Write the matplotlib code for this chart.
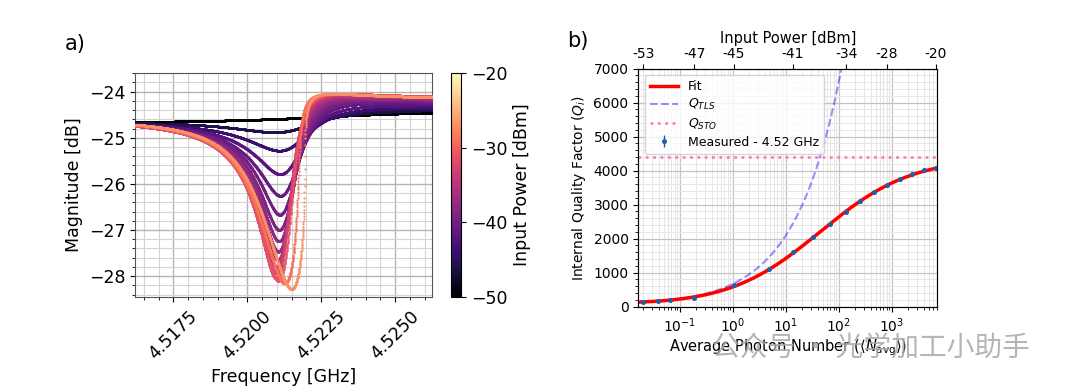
import numpy as np
import matplotlib
matplotlib.use("Agg")
import matplotlib.pyplot as plt
import matplotlib.colors as mcolors
from matplotlib.cm import ScalarMappable
from matplotlib.ticker import (AutoMinorLocator, MultipleLocator, FormatStrFormatter,
                               LogLocator, NullLocator, NullFormatter, FixedLocator)

# ---------------- Panel a: resonance sweeps (per-curve resonator parameters)
powers_dbm   = [-50, -46, -44, -42, -41, -40, -39, -38, -37, -36, -35, -34, -33, -31, -29, -27]
dip_min_db   = [-24.63, -24.88, -25.28, -25.79, -26.26, -26.67, -27.00, -27.25, -27.47,
                -27.65, -27.80, -27.94, -28.05, -28.10, -28.16, -28.28]
dip_freq_ghz = [4.5190, 4.52098, 4.52110, 4.52112, 4.52112, 4.52110, 4.52108, 4.52107, 4.52105,
                4.52103, 4.52100, 4.52098, 4.52098, 4.52105, 4.52127, 4.52150]
loaded_q     = [600, 1330, 1700, 2100, 2350, 2550, 2700, 2800, 2900, 2950, 3000, 3050, 3100, 3150, 3500, 3600]
asym_deg     = [-85, -38, -34, -32, -32, -31, -31, -31, -31, -31, -31, -31, -31, -31, -31, -31]
nonlin_a     = [0.0, 0.0, 0.0, 0.0, 0.0, 0.0, 0.02, 0.04, 0.06, 0.08, 0.10, 0.12, 0.14, 0.22, 0.55, 0.72]
baseline_db  = [-24.59, -24.52, -24.49, -24.47, -24.45, -24.43, -24.42, -24.41, -24.40,
                -24.39, -24.38, -24.37, -24.37, -24.36, -24.36, -24.36]
baseline_slope_db_per_ghz = 14.0
freq_range_ghz = (4.5162, 4.52626)

# ---------------- Panel b: internal quality factor vs photon number
photon_number = [0.0208, 0.0383, 0.0646, 0.188, 1.04, 4.75, 13.7, 32.7, 69.5, 139, 251,
                 468, 813, 1435, 2450, 4074, 6730]
qi_measured   = [150, 170, 190, 250, 625, 1110, 1595, 2040, 2430, 2790, 3095, 3360, 3570,
                 3750, 3895, 4020, 4075]
qi_error      = [15, 15, 15, 20, 20, 25, 25, 25, 30, 30, 35, 35, 40, 40, 45, 50, 60]
top_tick_index  = [0, 3, 4, 6, 9, 12, 16]
top_tick_labels = ['-53', '-47', '-45', '-41', '-34', '-28', '-20']
Q_TLS0 = 110.0
N_C = 0.0278
Q_STO = 4400.0


def solve_detuning(y0, a):
    if a == 0:
        return y0.copy()
    out = np.empty_like(y0)
    for k, v in enumerate(y0):
        r = np.roots([4.0, -4.0 * v, 1.0, a - v])
        real = r[np.abs(r.imag) < 1e-7 * max(1.0, abs(v))]
        if len(real) == 0:
            real = np.array([r[np.argmin(np.abs(r.imag))]])
        out[k] = real.real.min()
    return out


def sweep_db(f, fdip, mdb, ql, phi_deg, a, base):
    phi = np.deg2rad(phi_deg)
    r = 10 ** ((mdb - base) / 20)
    u = (1 - r * r) / (2 * (np.cos(phi) + r))
    d = 2 * u
    c = 1 - u * np.exp(1j * phi)
    theta = np.angle(c) - phi
    ystar = -np.tan(theta / 2) / 2
    y0star = ystar + a / (1 + 4 * ystar ** 2)
    f0 = fdip / (1 + y0star / ql)
    y0 = ql * (f - f0) / f0
    y = solve_detuning(y0, a)
    s = 1 - d * np.exp(1j * phi) / (1 + 2j * y)
    return base + baseline_slope_db_per_ghz * (f - fdip) + 20 * np.log10(np.abs(s))


fig = plt.figure(figsize=(10.8, 3.88), dpi=100)
W, H = 1080, 388


def rect(x0, y0, x1, y1):
    return [x0 / W, 1 - y1 / H, (x1 - x0) / W, (y1 - y0) / H]


# ---------- Panel a
axa = fig.add_axes(rect(135, 72.7, 432.3, 297.3))
cax = fig.add_axes(rect(450.7, 72.7, 461, 297.3))
cmap = plt.get_cmap('magma')
norm = mcolors.Normalize(vmin=-50, vmax=-20)
freq = np.linspace(freq_range_ghz[0], freq_range_ghz[1], 2400)
for i in range(len(powers_dbm)):
    vals = sweep_db(freq, dip_freq_ghz[i], dip_min_db[i], loaded_q[i], asym_deg[i],
                    nonlin_a[i], baseline_db[i])
    axa.plot(freq, vals, linestyle='none', marker='.', ms=3.2, mew=0,
             color=cmap(norm(powers_dbm[i])), zorder=3)

axa.set_xlim(4.5162, 4.52626)
axa.set_ylim(-28.46, -23.59)
axa.xaxis.set_major_locator(MultipleLocator(0.0025))
axa.xaxis.set_major_formatter(FormatStrFormatter('%.4f'))
axa.xaxis.set_minor_locator(AutoMinorLocator(5))
axa.yaxis.set_major_locator(MultipleLocator(1))
axa.yaxis.set_minor_locator(AutoMinorLocator(5))
axa.grid(True, which='major', color='#b4b4b4', lw=1.0, zorder=0)
axa.grid(True, which='minor', color='#d4d4d4', lw=0.8, zorder=0)
axa.tick_params(axis='both', which='major', labelsize=12.5)
for lab in axa.get_xticklabels():
    lab.set_rotation(45)
axa.set_xlabel('Frequency [GHz]', fontsize=12.5)
axa.set_ylabel('Magnitude [dB]', fontsize=12.5)
for sp in axa.spines.values():
    sp.set_color('#555555')

cb = fig.colorbar(ScalarMappable(norm=norm, cmap=cmap), cax=cax, ticks=[-20, -30, -40, -50])
cax.tick_params(labelsize=12.5)
cax.set_ylabel('Input Power [dBm]', fontsize=12.5)

fig.text(65 / W, 1 - 44 / H, 'a)', fontsize=15, va='center', ha='left')

# ---------- Panel b
axb = fig.add_axes(rect(638.3, 68.5, 937.3, 306.7))
N = np.array(photon_number)
Nline = np.logspace(np.log10(0.0166), np.log10(6900), 500)
q_tls = Q_TLS0 * np.sqrt(1 + Nline / N_C)
q_fit = 1 / (1 / q_tls + 1 / Q_STO)

l_fit, = axb.plot(Nline, q_fit, '-', color='red', lw=2.5, zorder=3)
l_tls, = axb.plot(Nline, q_tls, '--', color='blue', alpha=0.42, lw=1.5, zorder=2)
l_sto = axb.axhline(Q_STO, ls=':', color='hotpink', lw=2, alpha=0.85, zorder=2)
eb = axb.errorbar(N, qi_measured, yerr=qi_error, fmt='o', ms=2.6, color='#1f5fa8',
                  elinewidth=1, zorder=4)

axb.set_xscale('log')
xl = (10 ** -1.78, 10 ** 3.86)
axb.set_xlim(xl)
axb.set_ylim(0, 7000)
axb.yaxis.set_major_locator(MultipleLocator(1000))
axb.yaxis.set_minor_locator(AutoMinorLocator(5))
axb.xaxis.set_major_locator(LogLocator(base=10, numticks=12))
axb.xaxis.set_minor_locator(LogLocator(base=10, subs=np.arange(2, 10), numticks=12))
axb.xaxis.set_minor_formatter(NullFormatter())
axb.grid(True, which='major', color='#c4c4c4', lw=0.9, zorder=0)
axb.grid(True, which='minor', color='#e6e6e6', lw=0.7, zorder=0)
axb.tick_params(axis='both', which='major', labelsize=10)
axb.set_xlabel(r'Average Photon Number ($\langle N_{\mathrm{avg}}\rangle$)', fontsize=10.5, labelpad=2)
axb.set_ylabel(r'Internal Quality Factor ($Q_i$)', fontsize=10)
for sp in axb.spines.values():
    sp.set_color('#555555')

axt = axb.twiny()
axt.set_xscale('log')
axt.set_xlim(xl)
axt.xaxis.set_major_locator(FixedLocator([N[i] for i in top_tick_index]))
axt.set_xticklabels(top_tick_labels)
axt.xaxis.set_minor_locator(NullLocator())
axt.tick_params(axis='x', labelsize=10, pad=2)
axt.set_xlabel('Input Power [dBm]', fontsize=10.5, labelpad=3)

leg = axb.legend([l_fit, l_tls, l_sto, eb],
                 ['Fit', r'$Q_{TLS}$', r'$Q_{STO}$', 'Measured - 4.52 GHz'],
                 loc='upper left', fontsize=9, framealpha=0.8, borderpad=0.45,
                 handlelength=2.2, labelspacing=0.32)

fig.text(567 / W, 1 - 41 / H, 'b)', fontsize=15, va='center', ha='left')

# watermark text
fig.text(712 / W, 1 - 349 / H, '公众号 · 光学加工小助手', fontsize=20, color='#a8a8a8',
         alpha=0.85, va='center', ha='left',
         family=['Noto Sans CJK SC', 'DejaVu Sans'])

fig.savefig('out.png', dpi=100)
